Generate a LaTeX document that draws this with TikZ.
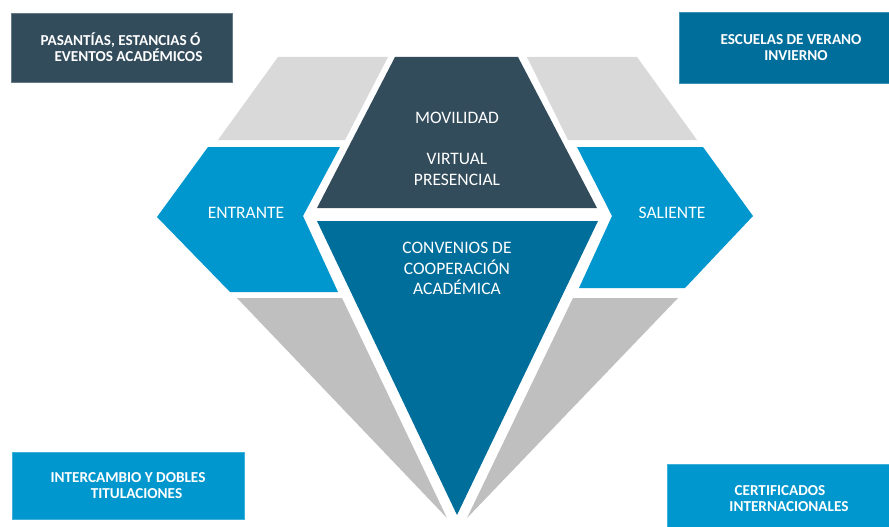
\documentclass[tikz,border=0pt]{standalone}
\usepackage{fontspec}
\setmainfont{Carlito}
\definecolor{slate}{RGB}{50,76,92}
\definecolor{deepblue}{RGB}{0,110,155}
\definecolor{skyblue}{RGB}{0,151,206}
\definecolor{graylt}{RGB}{217,217,217}
\definecolor{graydk}{RGB}{191,191,191}
\begin{document}
\begin{tikzpicture}[x=1pt,y=-1pt,
  lbl/.style={text=white, font=\fontsize{17.5}{20.5}\selectfont, align=center, inner sep=0pt},
  infobox/.style={fill=#1, draw=#1!75!white, line width=0.7pt, text=white,
    font=\bfseries\fontsize{15.2}{16}\selectfont, inner sep=0pt}]
\clip (0,0) rectangle (889,527);
\fill[white] (0,0) rectangle (889,527);
% upper facets
\fill[graylt] (278,57) -- (388,57) -- (345,140) -- (218,140) -- cycle;
\fill[graylt] (527,57) -- (637,57) -- (697,140) -- (568,140) -- cycle;
\fill[slate] (395,57) -- (518,57) -- (597,208) -- (317,208) -- cycle;
% side arrows
\fill[skyblue] (208,147) -- (340,147) -- (303,216) -- (338,292) -- (230,292) -- (157,217) -- cycle;
\fill[skyblue] (577,147) -- (703,147) -- (753,216) -- (685,288) -- (579,288) -- (612,216) -- cycle;
% lower facets
\fill[deepblue] (317,221) -- (598,221) -- (457,515) -- cycle;
\fill[graydk] (237,298) -- (342,298) -- (447,518) -- cycle;
\fill[graydk] (573,298) -- (678,298) -- (467,518) -- cycle;
% labels on the diamond
\node[lbl] (mov) at (457,149) {MOVILIDAD\\[20.5pt]VIRTUAL\\PRESENCIAL};
\node[lbl] (conv) at (457,268.5) {CONVENIOS DE\\COOPERACIÓN\\ACADÉMICA};
\node[lbl] (ent) at (246,213) {ENTRANTE};
\node[lbl] (sal) at (672,213) {SALIENTE};
% corner boxes
\node[infobox=slate, minimum width=221pt, minimum height=69pt, align=left] (pas) at (121.5,47.5)
  {PASANTÍAS, ESTANCIAS Ó\\\hspace*{14pt}EVENTOS ACADÉMICOS};
\node[infobox=deepblue, minimum width=224pt, minimum height=71pt, align=center] (esc) at (791,47.5)
  {ESCUELAS DE VERANO\\\hspace*{10pt}INVIERNO};
\node[infobox=skyblue, minimum width=232pt, minimum height=67pt, align=center] (int) at (128,485.5)
  {INTERCAMBIO Y DOBLES\\\hspace*{17pt}TITULACIONES};
\node[infobox=skyblue, minimum width=235pt, minimum height=69pt, align=center] (cert) at (784.5,498.5)
  {CERTIFICADOS\hspace*{9pt}\\\hspace*{9pt}INTERNACIONALES};
\end{tikzpicture}
\end{document}
